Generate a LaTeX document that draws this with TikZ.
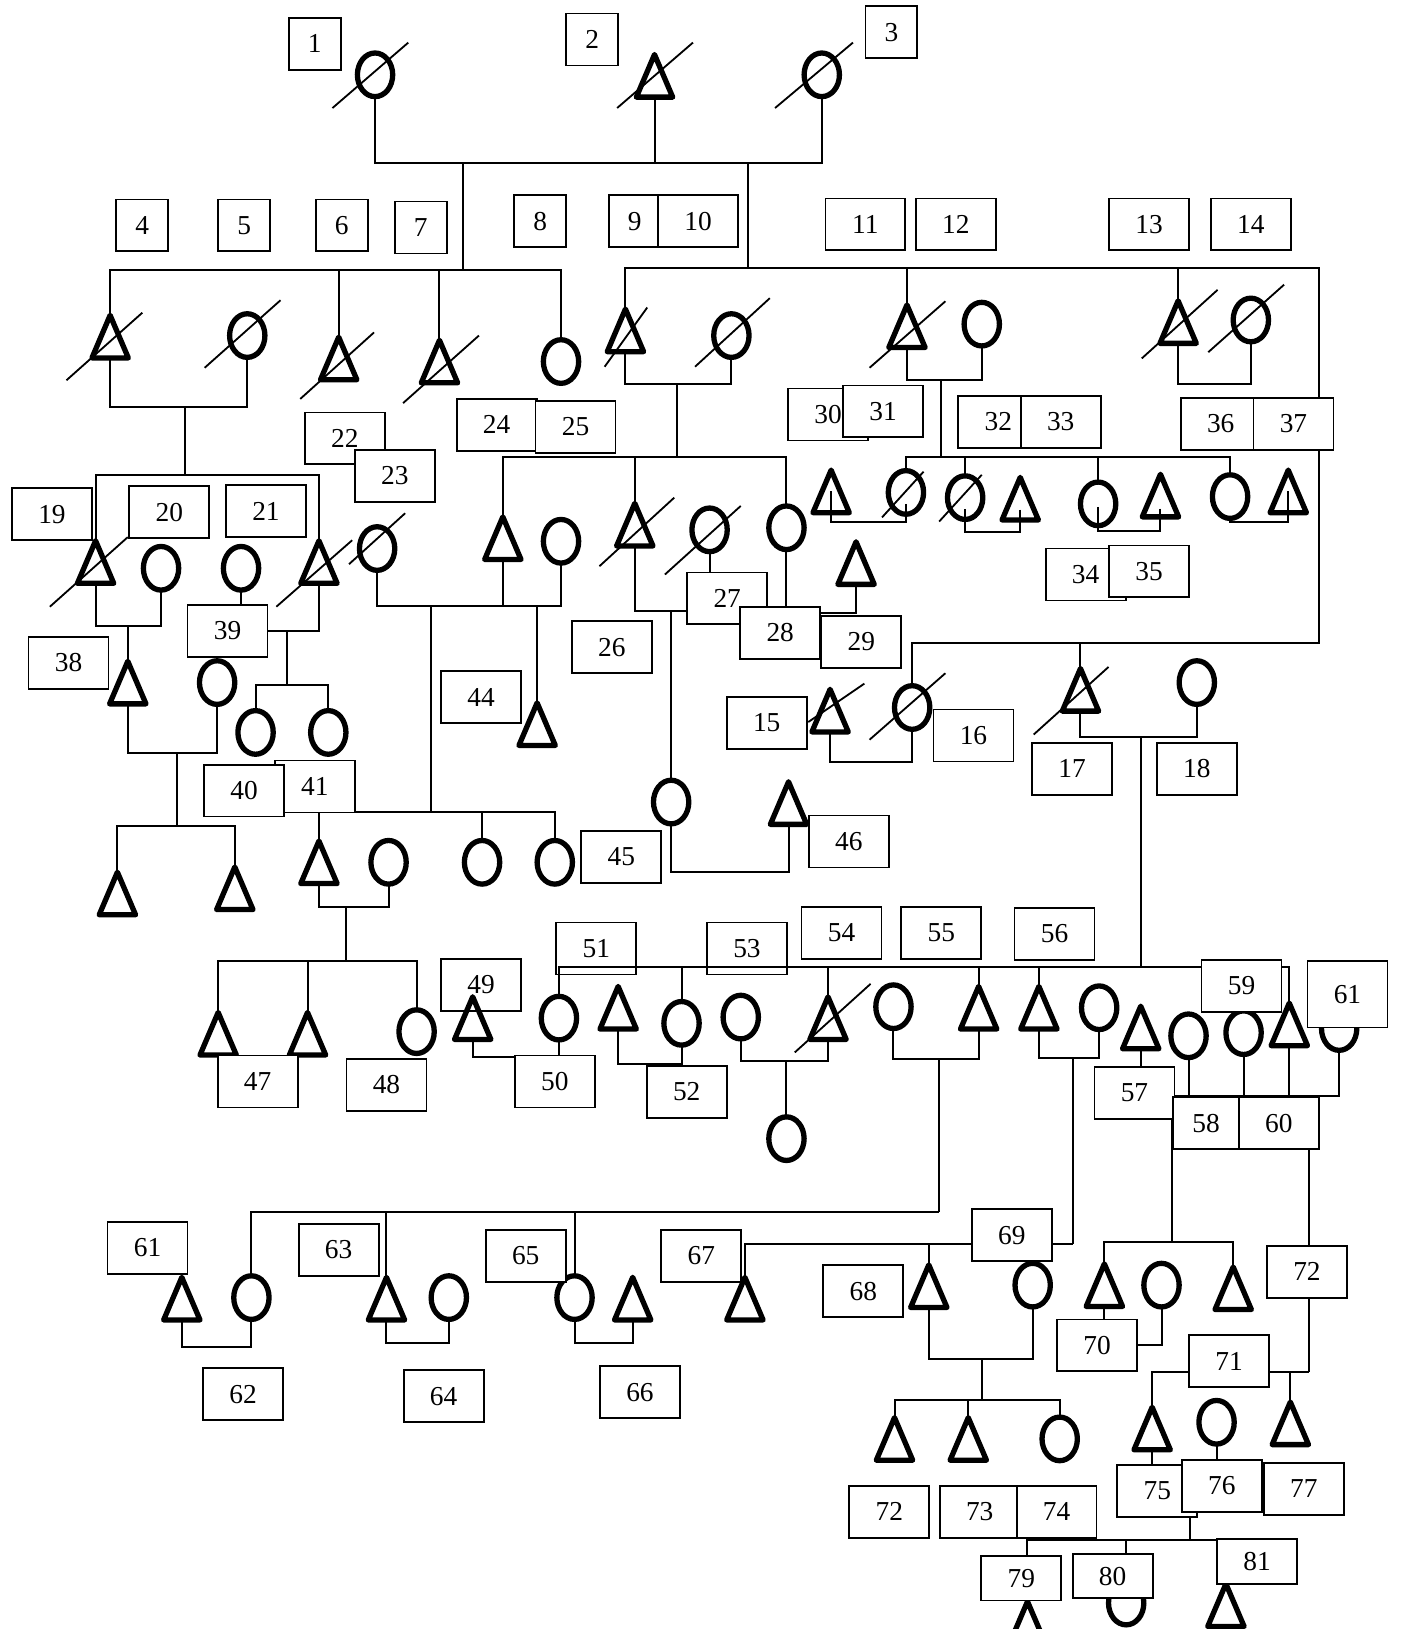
\documentclass[tikz,border=0pt]{standalone}
\usepackage{fontspec}
\setmainfont{Liberation Serif}
\usetikzlibrary{shapes.geometric,calc,backgrounds}
\tikzset{
  idbox/.style={draw,fill=white,line width=1pt,minimum width=1.54cm,minimum height=1cm,
                inner sep=0pt,font=\fontsize{15}{18}\selectfont},
  idsq/.style={idbox,minimum width=1cm},
  idclr/.style={idbox,fill=none},
  femnode/.style={draw,ellipse,line width=2.9pt,minimum width=0.68cm,minimum height=0.84cm,
                  inner sep=0pt,outer sep=0pt},
  malenode/.style={minimum width=0.7cm,minimum height=0.82cm,inner sep=0pt,outer sep=0pt},
  malesym/.style={line width=2.9pt,line join=round},
  kinline/.style={line width=1.1pt},
  deathline/.style={line width=1pt},
}
\newcommand{\mperson}[2]{\node[malenode] (#1) at (#2) {};
  \draw[malesym] (#1.south west) -- (#1.north) -- (#1.south east) -- cycle;}
\newcommand{\fperson}[2]{\node[femnode] (#1) at (#2) {};}
\newcommand{\deceased}[3]{\draw[deathline] ($(#1.center)+(#2)$) -- ($(#1.center)+(#3)$);}

\begin{document}
\begin{tikzpicture}[x=0.02cm,y=-0.02cm]
  \useasboundingbox (0,0) rectangle (1348,1568);

  % persons
  \fperson{p1}{361,72}   \mperson{p2}{630,73}   \fperson{p3}{791,72}
  \mperson{a1}{106,324}  \fperson{a2}{238,323}  \mperson{a3}{326,345}
  \mperson{a4}{423,348}  \fperson{a5}{540,348}
  \mperson{b1}{602,318}  \fperson{b2}{704,323}  \mperson{b3}{873,314}
  \fperson{b4}{945,312}  \mperson{b5}{1134,310} \fperson{b6}{1204,308}
  \mperson{c1}{92,541}   \fperson{c2}{155,547}  \fperson{c3}{232,547}
  \mperson{c4}{307,541}  \fperson{c5}{363,528}  \mperson{c6}{484,518}
  \fperson{c7}{540,521}  \mperson{c8}{611,505}  \fperson{c9}{683,510}
  \fperson{c10}{757,508} \mperson{c11}{824,542}
  \mperson{d1}{800,473}  \fperson{d2}{872,474}  \fperson{d3}{929,479}
  \mperson{d4}{982,480}  \fperson{d5}{1057,485} \mperson{d6}{1117,477}
  \fperson{d7}{1184,478} \mperson{d8}{1240,473}
  \mperson{e1}{799,684}  \fperson{e2}{878,681}  \mperson{e3}{1040,664}
  \fperson{e4}{1152,657}
  \mperson{f1}{123,657}  \fperson{f2}{209,657}  \fperson{f3}{246,705}
  \fperson{f4}{316,705}  \mperson{f5}{517,697}  \fperson{f6}{646,772}
  \mperson{f7}{759,773}
  \mperson{g1}{113,860}  \mperson{g2}{226,855}  \mperson{g3}{307,830}
  \fperson{g4}{374,830}  \fperson{g5}{464,830}  \fperson{g6}{534,830}
  \mperson{h1}{210,995}  \mperson{h2}{296,995}  \fperson{h3}{401,993}
  \mperson{h4}{455,980}  \fperson{h5}{538,980}  \mperson{h6}{595,970}
  \fperson{h7}{656,985}  \fperson{h8}{713,979}  \mperson{h9}{797,980}
  \fperson{h10}{757,1096} \fperson{h11}{860,969} \mperson{h12}{942,970}
  \mperson{h13}{1000,970} \fperson{h14}{1058,970} \mperson{h15}{1098,989}
  \fperson{h16}{1144,997} \fperson{h17}{1197,994} \mperson{h18}{1241,986}
  \fperson{h19}{1289,990}
  \mperson{i1}{175,1250} \fperson{i2}{242,1249} \mperson{i3}{372,1250}
  \fperson{i4}{432,1249} \fperson{i5}{553,1249} \mperson{i6}{609,1250}
  \mperson{i7}{717,1250} \mperson{i8}{894,1238} \fperson{i9}{994,1237}
  \mperson{i10}{1063,1237} \fperson{i11}{1118,1237} \mperson{i12}{1187,1240}
  \mperson{j1}{861,1385} \mperson{j2}{932,1385} \fperson{j3}{1020,1385}
  \mperson{j4}{1109,1375} \fperson{j5}{1171,1369} \mperson{j6}{1242,1370}
  \mperson{k1}{989,1562} \fperson{k2}{1084,1543} \mperson{k3}{1180,1545}

  \deceased{p1}{-41,32}{32,-31}   \deceased{p2}{-36,31}{37,-32}
  \deceased{p3}{-45,32}{30,-31}   \deceased{a1}{-42,42}{31,-23}
  \deceased{a2}{-41,31}{32,-34}   \deceased{a3}{-37,39}{34,-25}
  \deceased{a4}{-35,40}{38,-25}   \deceased{b1}{-20,35}{21,-22}
  \deceased{b2}{-35,30}{37,-36}   \deceased{b3}{-36,40}{37,-24}
  \deceased{b5}{-35,35}{38,-31}   \deceased{b6}{-41,31}{32,-34}
  \deceased{c1}{-44,43}{31,-24}   \deceased{c4}{-41,43}{32,-21}
  \deceased{c5}{-27,15}{27,-34}   \deceased{c8}{-34,40}{38,-26}
  \deceased{c9}{-43,43}{30,-23}   \deceased{d2}{-23,24}{17,-20}
  \deceased{d3}{-25,23}{16,-22}   \deceased{e1}{-21,11}{33,-26}
  \deceased{e2}{-41,31}{32,-33}   \deceased{e3}{-45,43}{27,-22}
  \deceased{h9}{-32,33}{41,-33}

  % number boxes
  \node[idsq] (t1) at (303,42) {1};
  \node[idsq] (t2) at (570,38) {2};
  \node[idsq] (t3) at (858,31) {3};
  \node[idsq] (t4) at (137,217) {4};
  \node[idsq] (t5) at (235,217) {5};
  \node[idsq] (t6) at (329,217) {6};
  \node[idsq] (t7) at (405,219) {7};
  \node[idsq] (t8) at (520,213) {8};
  \node[idsq] (t9) at (611,213) {9};
  \node[idbox] (t10) at (672,213) {10};
  \node[idbox] (t11) at (833,216) {11};
  \node[idbox] (t12) at (920,216) {12};
  \node[idbox] (t13) at (1106,216) {13};
  \node[idbox] (t14) at (1204,216) {14};
  \node[idbox] (t15) at (738,696) {15};
  \node[idbox] (t16) at (937,708) {16};
  \node[idbox] (t17) at (1032,740) {17};
  \node[idbox] (t18) at (1152,740) {18};
  \node[idbox] (t19) at (50,495) {19};
  \node[idbox] (t20) at (163,493) {20};
  \node[idbox] (t21) at (256,492) {21};
  \node[idbox] (t22) at (332,422) {22};
  \node[idbox] (t23) at (380,458) {23};
  \node[idbox] (t24) at (478,409) {24};
  \node[idbox] (t25) at (554,411) {25};
  \node[idbox] (t26) at (589,623) {26};
  \node[idbox] (t27) at (700,576) {27};
  \node[idbox] (t28) at (751,609) {28};
  \node[idbox] (t29) at (829,618) {29};
  \node[idbox] (t30) at (797,399) {30};
  \node[idbox] (t31) at (850,396) {31};
  \node[idbox] (t32) at (961,406) {32};
  \node[idbox] (t33) at (1021,406) {33};
  \node[idbox] (t34) at (1045,553) {34};
  \node[idbox] (t35) at (1106,550) {35};
  \node[idbox] (t36) at (1175,408) {36};
  \node[idbox] (t37) at (1245,408) {37};
  \node[idbox] (t38) at (66,638) {38};
  \node[idbox] (t39) at (219,607) {39};
  \node[idbox] (t41) at (303,757) {41};
  \node[idbox] (t40) at (235,761) {40};
  \node[idbox] (t44) at (463,671) {44};
  \node[idbox] (t45) at (598,825) {45};
  \node[idbox] (t46) at (817,810) {46};
  \node[idbox] (t47) at (248,1041) {47};
  \node[idbox] (t48) at (372,1044) {48};
  \node[idclr] (t49) at (463,948) {49};
  \node[idbox] (t50) at (534,1041) {50};
  \node[idclr] (t51) at (574,913) {51};
  \node[idbox] (t52) at (661,1051) {52};
  \node[idclr] (t53) at (719,913) {53};
  \node[idbox] (t54) at (810,898) {54};
  \node[idbox] (t55) at (906,898) {55};
  \node[idbox] (t56) at (1015,899) {56};
  \node[idbox] (t57) at (1092,1052) {57};
  \node[idbox,minimum width=1.28cm] (t58) at (1161,1081) {58};
  \node[idbox] (t59) at (1195,949) {59};
  \node[idbox] (t60) at (1231,1081) {60};
  \node[idbox,minimum height=1.28cm] (t61a) at (1297,957) {61};
  \node[idbox] (t61b) at (142,1201) {61};
  \node[idbox] (t62) at (234,1342) {62};
  \node[idbox] (t63) at (326,1203) {63};
  \node[idbox] (t64) at (427,1344) {64};
  \node[idbox] (t65) at (506,1209) {65};
  \node[idbox] (t66) at (616,1340) {66};
  \node[idbox] (t67) at (675,1209) {67};
  \node[idbox] (t68) at (831,1243) {68};
  \node[idbox] (t69) at (974,1189) {69};
  \node[idbox] (t70) at (1056,1295) {70};
  \node[idbox] (t71) at (1183,1310) {71};
  \node[idbox] (t72a) at (1258,1224) {72};
  \node[idbox] (t72b) at (856,1455) {72};
  \node[idbox] (t73) at (943,1455) {73};
  \node[idbox] (t74) at (1017,1455) {74};
  \node[idbox] (t75) at (1114,1435) {75};
  \node[idbox] (t76) at (1176,1430) {76};
  \node[idbox] (t77) at (1255,1433) {77};
  \node[idbox,minimum height=0.86cm] (t79) at (983,1519) {79};
  \node[idbox,minimum height=0.86cm] (t80) at (1071,1517) {80};
  \node[idbox,minimum height=0.86cm] (t81) at (1210,1503) {81};

  % lines
  \begin{scope}[on background layer]
  \coordinate (m1) at (446,157);  \coordinate (m2) at (720,157);
  \coordinate (s1) at (446,260);  \coordinate (s2) at (720,258);
  \coordinate (r1) at (1270,619);
  \draw[kinline] (p1.south) |- (m1) -- (m2) -| (p3.south);
  \draw[kinline] (p2.south) -- (p2.south |- m1);
  \draw[kinline] (m1) -- (s1);
  \draw[kinline] (m2) -- (s2);
  \draw[kinline] (a1.north) |- (s1) -| (a5.north);
  \draw[kinline] (a3.north) -- (a3.north |- s1);
  \draw[kinline] (a4.north) -- (a4.north |- s1);
  \draw[kinline] (b1.north) |- (s2) -| (r1) -| (e2.north);
  \draw[kinline] (b3.north) -- (b3.north |- s2);
  \draw[kinline] (b5.north) -- (b5.north |- s2);
  \draw[kinline] (e3.north) -- (e3.north |- r1);

  \coordinate (m3) at (178,392);  \coordinate (s3) at (178,457);
  \draw[kinline] (a1.south) |- (m3) -| (a2.south);
  \draw[kinline] (m3) -- (s3);
  \draw[kinline] (c1.north) |- (s3) -| (c4.north);

  \coordinate (m4) at (652,370);  \coordinate (s4) at (652,440);
  \draw[kinline] (b1.south) |- (m4) -| (b2.south);
  \draw[kinline] (m4) -- (s4);
  \draw[kinline] (c6.north) |- (s4) -| (c10.north);
  \draw[kinline] (c8.north) -- (c8.north |- s4);

  \coordinate (m5) at (906,366);  \coordinate (s5) at (906,440);
  \draw[kinline] (b3.south) |- (m5) -| (b4.south);
  \draw[kinline] (m5) -- (s5);
  \draw[kinline] (d2.north) |- (s5) -| (d7.north);
  \draw[kinline] (d3.north) -- (d3.north |- s5);
  \draw[kinline] (d5.north) -- (d5.north |- s5);

  \coordinate (m6) at (1170,370);
  \draw[kinline] (b5.south) |- (m6) -| (b6.south);

  \coordinate (m7) at (123,603);
  \draw[kinline] (c1.south) |- (m7) -| (c2.south);
  \draw[kinline] (f1.north) -- (f1.north |- m7);

  \coordinate (m8) at (276,607);  \coordinate (s8) at (276,659);
  \draw[kinline] (c3.south) -- (c3.south |- t39.north);
  \draw[kinline] (t39.east) -| (c4.south);
  \draw[kinline] (m8) -- (s8);
  \draw[kinline] (f3.north) |- (s8) -| (f4.north);

  \coordinate (m9) at (415,583);  \coordinate (s9) at (415,782);
  \draw[kinline] (c5.south) |- (m9) -| (c7.south);
  \draw[kinline] (c6.south) -- (c6.south |- m9);
  \draw[kinline] (f5.north) -- (f5.north |- m9);
  \draw[kinline] (m9) -- (s9);
  \draw[kinline] (g3.north) |- (s9) -| (g6.north);
  \draw[kinline] (g5.north) -- (g5.north |- s9);

  \coordinate (m10) at (646,588);
  \draw[kinline] (c8.south) |- (m10) -- (m10 -| t27.west);
  \draw[kinline] (c9.south) -- (c9.south |- t27.north);
  \draw[kinline] (m10) -- (f6.north);

  \coordinate (m11) at (808,590);
  \draw[kinline] (c10.south) -- (c10.south |- t28.north);
  \draw[kinline] (c11.south) |- (m11) -- (m11 -| t28.east);

  \coordinate (m12) at (836,502);
  \draw[kinline] (d1.center) |- (m12);
  \draw[kinline] (d2.south) ++(0,-10) |- (m12);
  \coordinate (m13) at (956,512);
  \draw[kinline] (d3.south) ++(0,-10) |- (m13);
  \draw[kinline] (d4.south) ++(0,-10) |- (m13);
  \coordinate (m14) at (1087,511);
  \draw[kinline] (d5.south) ++(0,-18) |- (m14);
  \draw[kinline] (d6.south) ++(0,-8) |- (m14);
  \coordinate (m15) at (1212,502);
  \draw[kinline] (d7.south) |- (m15);
  \draw[kinline] (d8.center) |- (m15);

  \coordinate (m16) at (1098,709);  \coordinate (s16) at (1098,931);
  \draw[kinline] (e3.south) |- (m16) -| (e4.south);
  \draw[kinline] (m16) -- (s16);
  \draw[kinline] (h5.north) |- (s16) -| (h18.north);
  \draw[kinline] (h7.north) -- (h7.north |- s16);
  \draw[kinline] (h9.north) -- (h9.north |- s16);
  \draw[kinline] (h12.north) -- (h12.north |- s16);
  \draw[kinline] (h13.north) -- (h13.north |- s16);

  \coordinate (m17) at (840,733);
  \draw[kinline] (e1.south) |- (m17) -| (e2.south);

  \coordinate (m18) at (170,725);  \coordinate (s18) at (170,795);
  \draw[kinline] (f1.south) |- (m18) -| (f2.south);
  \draw[kinline] (m18) -- (s18);
  \draw[kinline] (g1.north) |- (s18) -| (g2.north);

  \coordinate (m19) at (700,839);
  \draw[kinline] (f6.south) |- (m19) -| (f7.south);

  \coordinate (m20) at (333,873);  \coordinate (s20) at (333,925);
  \draw[kinline] (g3.south) |- (m20) -| (g4.south);
  \draw[kinline] (m20) -- (s20);
  \draw[kinline] (h1.north) |- (s20) -| (h3.north);
  \draw[kinline] (h2.north) -- (h2.north |- s20);

  \coordinate (m21) at (490,1017);
  \draw[kinline] (h4.south) |- (m21) -| (h5.south);
  \coordinate (m22) at (625,1024);
  \draw[kinline] (h6.south) |- (m22) -| (h7.south);
  \coordinate (m23) at (757,1021);
  \draw[kinline] (h8.south) |- (m23) -| (h9.south);
  \draw[kinline] (m23) -- (h10.north);

  \coordinate (m24) at (904,1019);  \coordinate (s24) at (904,1167);
  \draw[kinline] (h11.south) |- (m24) -| (h12.south);
  \draw[kinline] (m24) -- (s24);
  \draw[kinline] (i2.north) |- (s24);
  \draw[kinline] (i3.north) -- (i3.north |- s24);
  \draw[kinline] (i5.north) -- (i5.north |- s24);

  \coordinate (m25) at (1033,1018);  \coordinate (s25) at (1033,1197);
  \draw[kinline] (h13.south) |- (m25) -| (h14.south);
  \draw[kinline] (m25) -- (s25);
  \draw[kinline] (i7.north) |- (s25);
  \draw[kinline] (i8.north) -- (i8.north |- s25);

  \draw[kinline] (h15.south) -- (h15.south |- t57.north);
  \coordinate (m26) at (1128,1055);  \coordinate (s26) at (1128,1195);
  \draw[kinline] (m26) -| (h19.south);
  \draw[kinline] (h16.south) -- (h16.south |- m26);
  \draw[kinline] (h17.south) -- (h17.south |- m26);
  \draw[kinline] (h18.south) -- (h18.south |- m26);
  \draw[kinline] (m26) -- (s26);
  \draw[kinline] (i10.north) |- (s26) -| (i12.north);
  \coordinate (m27) at (1260,1055);  \coordinate (s27) at (1260,1321);
  \draw[kinline] (m27) -- (s27);
  \draw[kinline] (j4.north) |- (s27);
  \draw[kinline] (j6.north) -- (j6.north |- s27);

  \coordinate (m28) at (210,1297);
  \draw[kinline] (i1.south) |- (m28) -| (i2.south);
  \coordinate (m29) at (400,1293);
  \draw[kinline] (i3.south) |- (m29) -| (i4.south);
  \coordinate (m30) at (580,1293);
  \draw[kinline] (i5.south) |- (m30) -| (i6.south);

  \coordinate (m31) at (945,1308);  \coordinate (s31) at (945,1348);
  \draw[kinline] (i8.south) |- (m31) -| (i9.south);
  \draw[kinline] (m31) -- (s31);
  \draw[kinline] (j1.north) |- (s31) -| (j3.north);
  \draw[kinline] (j2.north) -- (j2.north |- s31);

  \draw[kinline] (i10.south) -- (i10.south |- t70.north);
  \draw[kinline] (i11.south) |- (t70.east);
  \draw[kinline] (j4.south) -- (j4.south |- t75.north);
  \draw[kinline] (j5.south) -- (j5.south |- t76.north);

  \coordinate (m32) at (1145,1458);  \coordinate (s32) at (1145,1482);
  \draw[kinline] (m32) -- (s32);
  \draw[kinline] (k1.north) |- (s32) -| (k3.north);
  \draw[kinline] (k2.north) -- (k2.north |- s32);
  \end{scope}
\end{tikzpicture}
\end{document}
